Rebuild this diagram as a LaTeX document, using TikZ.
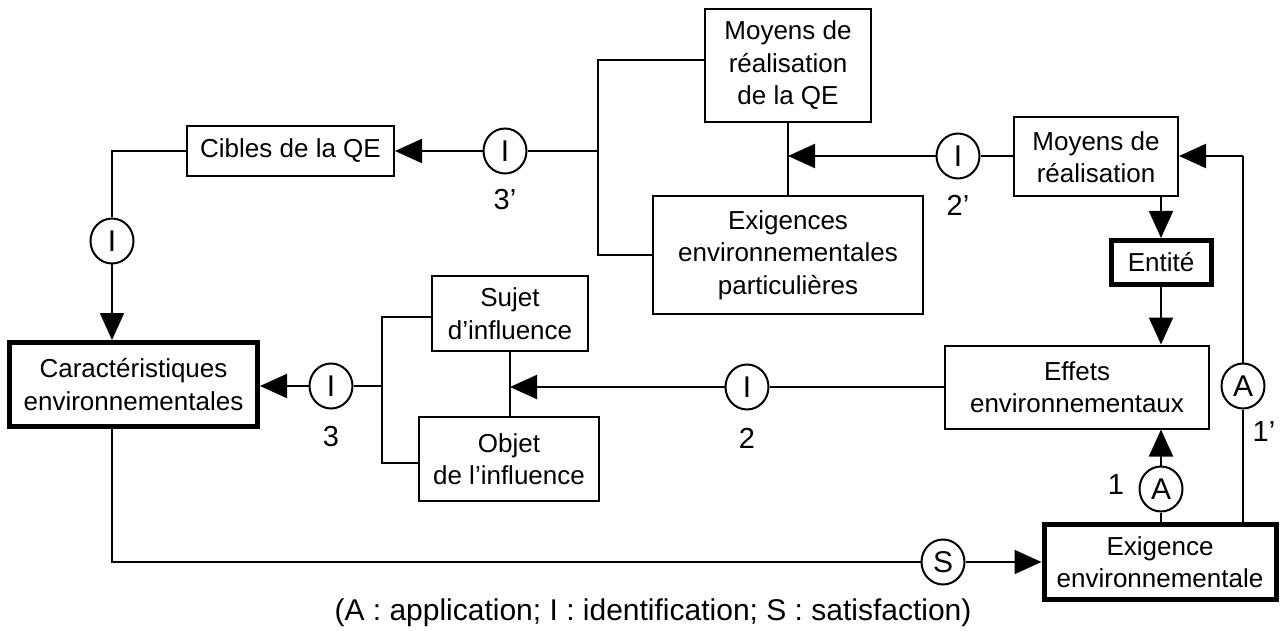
\documentclass[tikz,border=0pt]{standalone}
\usepackage{fontspec}
\setmainfont{Liberation Sans}
\usetikzlibrary{arrows.meta,shapes.geometric}
\begin{document}
\begin{tikzpicture}[x=1pt,y=-1pt,
  txt/.style={font=\fontsize{26}{32.5}\selectfont, align=center, inner sep=0pt},
  box/.style={txt, draw, line width=2pt, rectangle},
  tbox/.style={txt, draw, line width=5pt, rectangle},
  circ/.style={txt, font=\fontsize{30}{36}\selectfont, draw, line width=2pt, ellipse, minimum width=43pt, minimum height=45pt, fill=white},
  lab/.style={txt, font=\fontsize{29}{36}\selectfont},
  conn/.style={line width=2pt},
  arr/.style={line width=2pt, -{Triangle[length=27pt,width=24pt]}}
]
\useasboundingbox (0,0) rectangle (1280,631);

% boxes
\node[box, minimum width=207pt, minimum height=50pt] (cibles) at (290.5,151) {Cibles de la QE};
\node[box, minimum width=166pt, minimum height=113pt] (mqe) at (788,65.5) {Moyens de\\réalisation\\de la QE};
\node[box, minimum width=270pt, minimum height=118pt] (exp) at (788,255) {Exigences\\environnementales\\particulières};
\node[box, minimum width=164pt, minimum height=79pt] (mr) at (1096,157) {Moyens de\\réalisation};
\node[tbox, minimum width=100pt, minimum height=44pt] (entite) at (1161,262.5) {Entité};
\node[box, minimum width=264pt, minimum height=83pt] (effets) at (1077,387) {Effets\\environnementaux};
\node[box, minimum width=156pt, minimum height=75pt] (sujet) at (510,313.5) {Sujet\\d’influence};
\node[box, minimum width=180pt, minimum height=84pt] (objet) at (509,459) {Objet\\de l’influence};
\node[tbox, minimum width=248pt, minimum height=84pt] (carac) at (133.5,384.5) {Caractéristiques\\environnementales};
\node[tbox, minimum width=232pt, minimum height=75pt] (exig) at (1160,562) {Exigence\\environnementale};

% circles
\node[circ] (cI1) at (112,241) {I};
\node[circ] (c3p) at (505,151) {I};
\node[circ] (c2p) at (958,156) {I};
\node[circ] (c2) at (747,387) {I};
\node[circ] (c3) at (331,386) {I};
\node[circ] (cS) at (943,562) {S};
\node[circ] (cA1) at (1161,489) {A};
\node[circ] (cA2) at (1243,386) {A};

% labels
\node[lab] (l3p) at (505,200) {3’};
\node[lab] (l2p) at (958,205) {2’};
\node[lab] (l2) at (747,438) {2};
\node[lab] (l3) at (331,437) {3};
\node[lab] (l1) at (1116,485) {1};
\node[lab] (l1p) at (1264,432) {1’};
\node[lab, font=\fontsize{30}{36}\selectfont] (cap) at (653,613) {(A : application; I : identification; S : satisfaction)};

% coordinates
\coordinate (b1t) at (598,60);
\coordinate (b1m) at (598,151);
\coordinate (b1b) at (598,255);
\coordinate (j2p) at (788,156);
\coordinate (b3t) at (382,317);
\coordinate (b3m) at (382,386);
\coordinate (b3b) at (382,463);
\coordinate (j2) at (510,387);
\coordinate (c1top) at (112,151);
\coordinate (cbot) at (112,562);
\coordinate (r1) at (1243,156);

% connectors
\draw[conn] (cibles.west) -- (c1top) -- (cI1.north);
\draw[arr] (cI1.south) -- (cI1.south |- carac.north);
\draw[arr] (c3p.west) -- (cibles.east);
\draw[conn] (c3p.east) -- (b1m);
\draw[conn] (b1t -| mqe.west) -- (b1t) -- (b1b) -- (exp.west);
\draw[conn] (mqe.south) -- (exp.north);
\draw[arr] (c2p.west) -- (j2p);
\draw[conn] (c2p.east) -- (c2p.east -| mr.west);
\draw[arr] (entite.north |- mr.south) -- (entite.north);
\draw[arr] (entite.south) -- (entite.south |- effets.north);
\draw[conn] (effets.west |- c2.east) -- (c2.east);
\draw[arr] (c2.west) -- (j2);
\draw[conn] (sujet.south) -- (sujet.south |- objet.north);
\draw[conn] (b3t -| sujet.west) -- (b3t) -- (b3b) -- (b3b -| objet.west);
\draw[conn] (c3.east) -- (b3m);
\draw[arr] (c3.west) -- (c3.west -| carac.east);
\draw[conn] (cbot |- carac.south) -- (cbot) -- (cS.west);
\draw[arr] (cS.east) -- (exig.west);
\draw[conn] (exig.north -| cA1) -- (cA1.south);
\draw[arr] (cA1.north) -- (cA1.north |- effets.south);
\draw[conn] (exig.north -| cA2) -- (cA2.south);
\draw[conn] (cA2.north) -- (r1);
\draw[arr] (r1) -- (r1 -| mr.east);
\end{tikzpicture}
\end{document}
